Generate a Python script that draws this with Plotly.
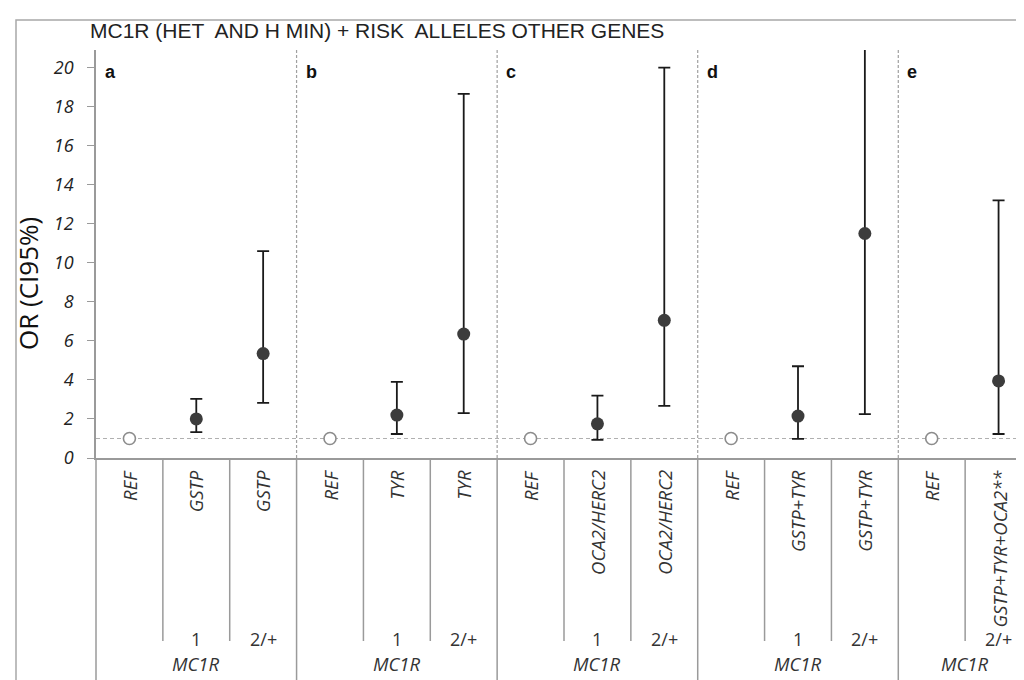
import plotly.graph_objects as go

# ---------------- data ----------------
genes = ["REF", "GSTP", "GSTP",
         "REF", "TYR", "TYR",
         "REF", "OCA2/HERC2", "OCA2/HERC2",
         "REF", "GSTP+TYR", "GSTP+TYR",
         "REF", "GSTP+TYR+OCA2**"]
mc1r_counts = ["", "1", "2/+",
               "", "1", "2/+",
               "", "1", "2/+",
               "", "1", "2/+",
               "", "2/+"]
odds_ratio = [1, 2.0, 5.35, 1, 2.2, 6.35, 1, 1.75, 7.05, 1, 2.15, 11.5, 1, 3.95]
ci_lower = [None, 1.33, 2.82, None, 1.23, 2.3, None, 0.93, 2.67, None, 0.98, 2.25, None, 1.23]
ci_upper = [None, 3.03, 10.6, None, 3.9, 18.65, None, 3.2, 20.0, None, 4.7, 24.0, None, 13.2]
panel_letters = ["a", "b", "c", "d", "e"]
panel_sizes = [3, 3, 3, 3, 2]
group_label = "MC1R"
title_text = "MC1R (HET  AND H MIN) + RISK  ALLELES OTHER GENES"
y_title = "OR (CI95%)"
y_ticks = list(range(0, 21, 2))

# ---------------- layout geometry ----------------
W, H = 1024, 680
PL, PT, PB = 88, 42, 450
plot_h = PB - PT
plot_w = W - PL


def py(p):
    return (PB - p) / plot_h


def px(p):
    return (p - PL) / plot_w


GRAY = "#9a9a9a"

ref_x = [i for i, g in enumerate(genes) if g == "REF"]
ref_y = [odds_ratio[i] for i in ref_x]
est_x = [i for i, g in enumerate(genes) if g != "REF"]
est_y = [odds_ratio[i] for i in est_x]
err_plus = [ci_upper[i] - odds_ratio[i] for i in est_x]
err_minus = [odds_ratio[i] - ci_lower[i] for i in est_x]

fig = go.Figure()

fig.add_trace(go.Scatter(
    x=est_x, y=est_y, mode="markers",
    marker=dict(size=13, color="#3c3c3c"),
    error_y=dict(type="data", symmetric=False, array=err_plus, arrayminus=err_minus,
                 color="#1a1a1a", thickness=1.8, width=6),
    showlegend=False, hoverinfo="skip"))

fig.add_trace(go.Scatter(
    x=ref_x, y=ref_y, mode="markers",
    marker=dict(size=12, color="white", line=dict(color="#8c8c8c", width=1.6)),
    showlegend=False, hoverinfo="skip"))

shapes = []
annotations = []

# reference line at OR = 1
shapes.append(dict(type="line", xref="x", yref="y", x0=-0.5, x1=len(genes) - 0.5, y0=1, y1=1,
                   line=dict(color="#b0b0b0", width=1.2, dash="4px,3px"), layer="below"))

# outer frame
shapes.append(dict(type="rect", xref="paper", yref="paper",
                   x0=px(8), x1=px(1022), y0=py(700), y1=py(12),
                   line=dict(color="#a8a8a8", width=1.5), layer="below"))

# left border of table
shapes.append(dict(type="line", xref="paper", yref="paper", x0=0, x1=0, y0=0, y1=py(700),
                   line=dict(color=GRAY, width=1.5)))

LABEL_FONT = "Open Sans"
start = 0
for k, size in enumerate(panel_sizes):
    if start > 0:
        shapes.append(dict(type="line", xref="x", yref="paper", x0=start - 0.5, x1=start - 0.5,
                           y0=0, y1=1, line=dict(color="#a0a0a0", width=1.2, dash="3px,2px")))
        shapes.append(dict(type="line", xref="x", yref="paper", x0=start - 0.5, x1=start - 0.5,
                           y0=0, y1=py(700), line=dict(color=GRAY, width=1.5)))
    for j in range(1, size):
        xb = start + j - 0.5
        shapes.append(dict(type="line", xref="x", yref="paper", x0=xb, x1=xb,
                           y0=0, y1=py(633), line=dict(color=GRAY, width=1.5)))
    # panel letter
    annotations.append(dict(xref="x", yref="paper", x=start - 0.5, y=py(64), xanchor="left",
                            yanchor="middle", xshift=7, showarrow=False,
                            text="<b>" + panel_letters[k] + "</b>",
                            font=dict(family="Liberation Sans, Arial", size=18, color="#111")))
    # MC1R group label
    annotations.append(dict(xref="x", yref="paper", x=start + (size - 1) / 2, y=py(655),
                            xanchor="center", yanchor="middle", showarrow=False,
                            text="<i>" + group_label + "</i>",
                            font=dict(family=LABEL_FONT, size=18.5, color="#333")))
    start += size

for i, g in enumerate(genes):
    annotations.append(dict(xref="x", yref="paper", x=i, y=py(460), xanchor="center",
                            yanchor="top", textangle=-90, showarrow=False,
                            text="<i>" + g + "</i>",
                            font=dict(family=LABEL_FONT, size=18.5, color="#333")))
    if mc1r_counts[i]:
        annotations.append(dict(xref="x", yref="paper", x=i, y=py(631), xanchor="center",
                                yanchor="middle", showarrow=False, text=mc1r_counts[i],
                                font=dict(family=LABEL_FONT, size=18, color="#333")))

# title
annotations.append(dict(xref="paper", yref="paper", x=px(80), y=py(23), xanchor="left",
                        yanchor="middle", showarrow=False, text=title_text,
                        font=dict(family="Liberation Sans, Arial", size=21, color="#222")))
# y title
annotations.append(dict(xref="paper", yref="paper", x=px(20), y=py(276), xanchor="center",
                        yanchor="middle", textangle=-90, showarrow=False, text=y_title,
                        font=dict(family=LABEL_FONT, size=26, color="#111")))

fig.update_layout(
    width=W, height=H,
    margin=dict(l=PL, r=0, t=PT, b=H - PB, pad=0),
    paper_bgcolor="white", plot_bgcolor="white",
    shapes=shapes, annotations=annotations,
    xaxis=dict(range=[-0.5, len(genes) - 0.5], showticklabels=False, showgrid=False,
               zeroline=False, showline=True, linecolor=GRAY, linewidth=1.5, ticks=""),
    yaxis=dict(range=[0, 20.9], tickvals=y_ticks, ticks="outside", ticklen=7,
               tickcolor=GRAY, tickwidth=1.2, showgrid=False, zeroline=False,
               showline=True, linecolor=GRAY, linewidth=1.5, ticklabelstandoff=10,
               tickfont=dict(family="Open Sans", size=18, color="#222", style="italic")),
)

fig.write_html("out.html")
